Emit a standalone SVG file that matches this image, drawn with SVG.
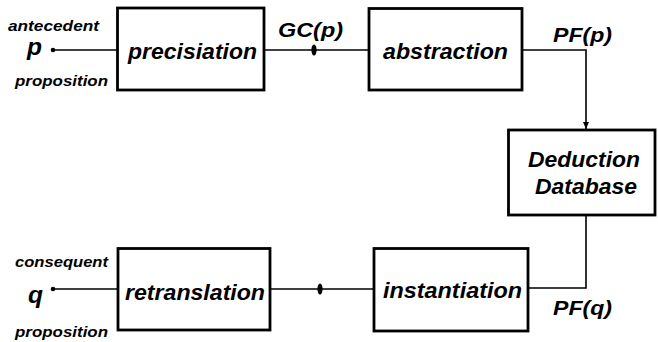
<svg xmlns="http://www.w3.org/2000/svg" width="658" height="342" viewBox="0 0 658 342">
  <style>
    .box { fill: #fff; stroke: #000; stroke-width: 2.8; }
    .wire { fill: none; stroke: #000; stroke-width: 1.6; }
    .lbl { font-family: "Liberation Sans", Arial, sans-serif; font-weight: bold; font-style: italic; fill: #000; }
    .big { font-size: 22px; }
    .mid { font-size: 20px; }
    .small { font-size: 15px; }
    .var { font-size: 23px; }
  </style>
  <defs>
    <marker id="arrow" markerWidth="8" markerHeight="8" refX="7" refY="4" orient="auto" markerUnits="userSpaceOnUse">
      <path d="M0,1 L7,4 L0,7 Z" fill="#000"/>
    </marker>
  </defs>

  <!-- connectors -->
  <g id="connectors">
    <line class="wire" x1="53" y1="50" x2="117" y2="50"/>
    <circle cx="53" cy="50" r="2.3" fill="#000"/>
    <line class="wire" x1="264" y1="50" x2="369" y2="50"/>
    <ellipse cx="314" cy="50" rx="2.6" ry="5.5" fill="#000"/>
    <polyline class="wire" points="522,50 586,50 586,129" marker-end="url(#arrow)"/>
    <polyline class="wire" points="586,215 586,288 528,288"/>
    <line class="wire" x1="270" y1="289" x2="374" y2="289"/>
    <ellipse cx="320" cy="289" rx="2.6" ry="5.5" fill="#000"/>
    <line class="wire" x1="53" y1="289" x2="118" y2="289"/>
    <circle cx="53" cy="289" r="2.3" fill="#000"/>
  </g>

  <!-- terminal and edge labels -->
  <g id="labels">
    <text class="lbl small" x="8" y="31" textLength="91" lengthAdjust="spacingAndGlyphs">antecedent</text>
    <text class="lbl var" x="27" y="55" textLength="15" lengthAdjust="spacingAndGlyphs">p</text>
    <text class="lbl small" x="15" y="86" textLength="93" lengthAdjust="spacingAndGlyphs">proposition</text>
    <text class="lbl mid" x="278" y="37" textLength="65" lengthAdjust="spacingAndGlyphs">GC(p)</text>
    <text class="lbl mid" x="553" y="42" textLength="59" lengthAdjust="spacingAndGlyphs">PF(p)</text>
    <text class="lbl mid" x="553" y="315" textLength="59" lengthAdjust="spacingAndGlyphs">PF(q)</text>
    <text class="lbl small" x="15" y="267" textLength="93" lengthAdjust="spacingAndGlyphs">consequent</text>
    <text class="lbl var" x="28" y="303" textLength="15" lengthAdjust="spacingAndGlyphs">q</text>
    <text class="lbl small" x="15" y="337" textLength="93" lengthAdjust="spacingAndGlyphs">proposition</text>
  </g>

  <g id="precisiation">
    <rect class="box" x="117.5" y="8" width="146.5" height="82"/>
    <text class="lbl big" x="128" y="59" textLength="129" lengthAdjust="spacingAndGlyphs">precisiation</text>
  </g>

  <g id="abstraction">
    <rect class="box" x="369" y="8.5" width="153" height="81.5"/>
    <text class="lbl big" x="383" y="59" textLength="125" lengthAdjust="spacingAndGlyphs">abstraction</text>
  </g>

  <g id="deduction-database">
    <rect class="box" x="508.5" y="130" width="146.5" height="85"/>
    <text class="lbl big" x="528" y="167" textLength="112" lengthAdjust="spacingAndGlyphs">Deduction</text>
    <text class="lbl big" x="535" y="194" textLength="102" lengthAdjust="spacingAndGlyphs">Database</text>
  </g>

  <g id="instantiation">
    <rect class="box" x="374" y="248.5" width="154" height="82.5"/>
    <text class="lbl big" x="383" y="298" textLength="139" lengthAdjust="spacingAndGlyphs">instantiation</text>
  </g>

  <g id="retranslation">
    <rect class="box" x="118" y="248.5" width="152" height="81.5"/>
    <text class="lbl big" x="125" y="300" textLength="140" lengthAdjust="spacingAndGlyphs">retranslation</text>
  </g>
</svg>
